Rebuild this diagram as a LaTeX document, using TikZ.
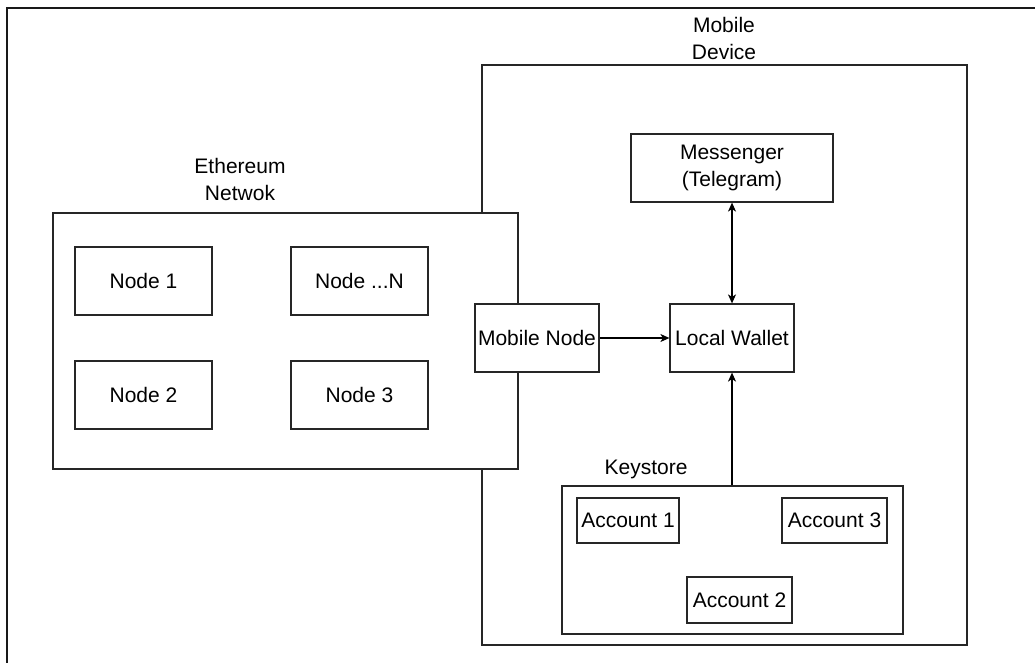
\documentclass[tikz,border=0pt]{standalone}
\usepackage{fontspec}
\setmainfont{Liberation Sans}
\usetikzlibrary{arrows.meta}
\begin{document}
\begin{tikzpicture}[x=1pt,y=-1pt,
  box/.style={draw=black!85, line width=1.2pt, fill=white, inner sep=0pt,
    font=\fontsize{21}{27}\selectfont, align=center},
  lbl/.style={inner sep=0pt, font=\fontsize{21}{27}\selectfont, align=center},
  conn/.style={draw=black, line width=1.2pt},
  tip/.style={-{Stealth[length=9pt,width=8pt,inset=2.5pt]}},
  dtip/.style={{Stealth[length=9pt,width=8pt,inset=2.5pt]}-{Stealth[length=9pt,width=8pt,inset=2.5pt]}}]
\useasboundingbox (0,0) rectangle (1035,663);
\begin{scope}
  \clip (0,0) rectangle (1035,663);
  \draw[line width=1.6pt, draw=black!90] (7,8) rectangle (1050,680);
\end{scope}
% containers
\node[box, minimum width=485pt, minimum height=580pt] (mobile) at (724.5,355) {};
\node[lbl] (mobilelbl) at (724,38) {Mobile\\Device};
\node[box, minimum width=465pt, minimum height=256pt] (eth) at (285.5,341) {};
\node[lbl] (ethlbl) at (240,179) {Ethereum\\Netwok};
% ethereum nodes
\node[box, minimum width=137pt, minimum height=68pt] (n1) at (143.5,281) {Node 1};
\node[box, minimum width=137pt, minimum height=68pt] (nN) at (359.5,281) {Node ...N};
\node[box, minimum width=137pt, minimum height=68pt] (n2) at (143.5,395) {Node 2};
\node[box, minimum width=137pt, minimum height=68pt] (n3) at (359.5,395) {Node 3};
% mobile components
\node[box, minimum width=124pt, minimum height=68pt] (mnode) at (537,338) {Mobile Node};
\node[box, minimum width=124pt, minimum height=68pt] (wallet) at (732,338) {Local Wallet};
\node[box, minimum width=202pt, minimum height=68pt] (msg) at (732,168) {Messenger\\(Telegram)};
\node[box, minimum width=341pt, minimum height=148pt] (keystore) at (732.5,560) {};
\node[lbl] (keylbl) at (646,469) {Keystore};
\node[box, minimum width=102pt, minimum height=45pt] (a1) at (628,520.5) {Account 1};
\node[box, minimum width=105pt, minimum height=45pt] (a3) at (834.5,520.5) {Account 3};
\node[box, minimum width=105pt, minimum height=46pt] (a2) at (739.5,600) {Account 2};
% connectors
\draw[conn, tip] (mnode.east) -- (wallet.west);
\draw[conn, dtip] (msg.south) -- (wallet.north);
\draw[conn, tip] (keystore.north -| wallet.south) -- (wallet.south);
\end{tikzpicture}
\end{document}
